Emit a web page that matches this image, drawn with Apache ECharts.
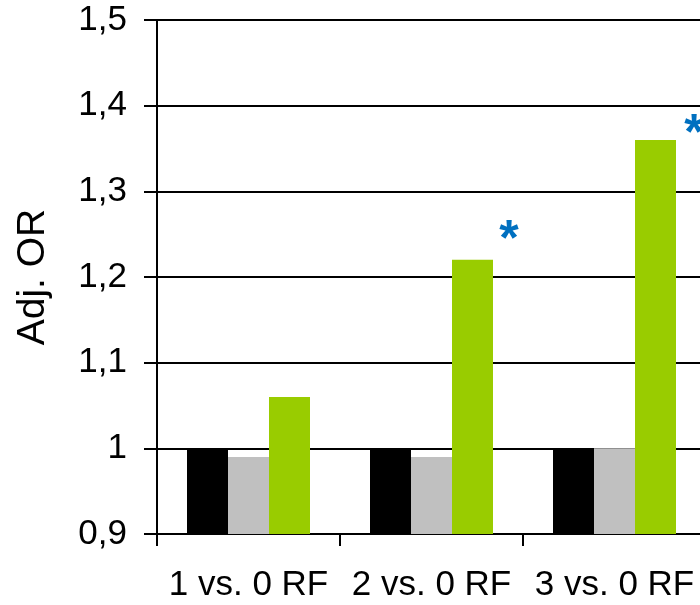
<!DOCTYPE html>
<html>
<head>
<meta charset="utf-8">
<script src="https://cdn.jsdelivr.net/npm/echarts@6/dist/echarts.min.js"></script>
<style>
  html, body { margin: 0; padding: 0; background: #ffffff; }
  #chart { width: 700px; height: 605px; }
</style>
</head>
<body>
<div id="chart"></div>
<script>
// Risk-factor comparisons on the category axis
const categories = ['1 vs. 0 RF', '2 vs. 0 RF', '3 vs. 0 RF'];

// Adjusted odds ratios for the three series
const seriesBlack = [1.00, 1.00, 1.00];
const seriesGray = [0.99, 0.99, 1.00];
const seriesGreen = [1.06, 1.22, 1.36];

// Significance marks drawn next to the green bars
const significant = [false, true, true];

// Value-axis tick labels (German decimal comma)
const yTickValues = [0.9, 1.0, 1.1, 1.2, 1.3, 1.4, 1.5];
const yTickLabels = ['0,9', '1', '1,1', '1,2', '1,3', '1,4', '1,5'];

const FONT = 'Arial, "Liberation Sans", Helvetica, sans-serif';

// Star label placement relative to the top-left of each green bar
const starOffsets = [[0, 0], [57, -19], [59, -5]];

const greenData = seriesGreen.map((v, i) => {
  if (!significant[i]) return v;
  return {
    value: v,
    label: {
      show: true,
      formatter: '*',
      position: starOffsets[i],
      align: 'center',
      verticalAlign: 'middle',
      color: '#0070C0',
      fontSize: 50,
      fontWeight: 'bold',
      fontFamily: FONT
    }
  };
});

const chart = echarts.init(document.getElementById('chart'));
chart.setOption({
  animation: false,
  backgroundColor: '#ffffff',
  grid: {
    left: 157,
    top: 20,
    width: 549,
    height: 514,
    containLabel: false,
    outerBoundsMode: 'none'
  },
  xAxis: {
    type: 'category',
    data: categories,
    boundaryGap: true,
    axisLine: { show: true, lineStyle: { color: '#000', width: 2 } },
    axisTick: { show: true, inside: false, length: 12, lineStyle: { color: '#000', width: 2 } },
    axisLabel: {
      color: '#000',
      fontSize: 35,
      fontFamily: FONT,
      margin: 34,
      interval: 0
    },
    splitLine: { show: false }
  },
  yAxis: {
    type: 'value',
    min: 0.9,
    max: 1.5,
    interval: 0.1,
    name: 'Adj. OR',
    nameLocation: 'middle',
    nameGap: 104,
    nameRotate: 90,
    nameTextStyle: { color: '#000', fontSize: 39, fontFamily: FONT },
    axisLine: { show: true, lineStyle: { color: '#000', width: 2 } },
    axisTick: { show: true, inside: false, length: 13, lineStyle: { color: '#000', width: 2 } },
    axisLabel: {
      color: '#000',
      fontSize: 35,
      fontFamily: FONT,
      margin: 30,
      formatter: function (v) {
        const idx = yTickValues.findIndex(t => Math.abs(t - v) < 1e-6);
        return idx >= 0 ? yTickLabels[idx] : '';
      }
    },
    splitLine: { show: true, lineStyle: { color: '#000', width: 2 } }
  },
  series: [
    {
      name: 'Serie 1',
      type: 'bar',
      data: seriesBlack,
      barWidth: 41,
      barGap: '0%',
      itemStyle: { color: '#000000' }
    },
    {
      name: 'Serie 2',
      type: 'bar',
      data: seriesGray,
      barWidth: 41,
      barGap: '0%',
      itemStyle: { color: '#C0C0C0' }
    },
    {
      name: 'Serie 3',
      type: 'bar',
      data: greenData,
      barWidth: 41,
      barGap: '0%',
      itemStyle: { color: '#99CC00' }
    }
  ]
});
</script>
</body>
</html>
